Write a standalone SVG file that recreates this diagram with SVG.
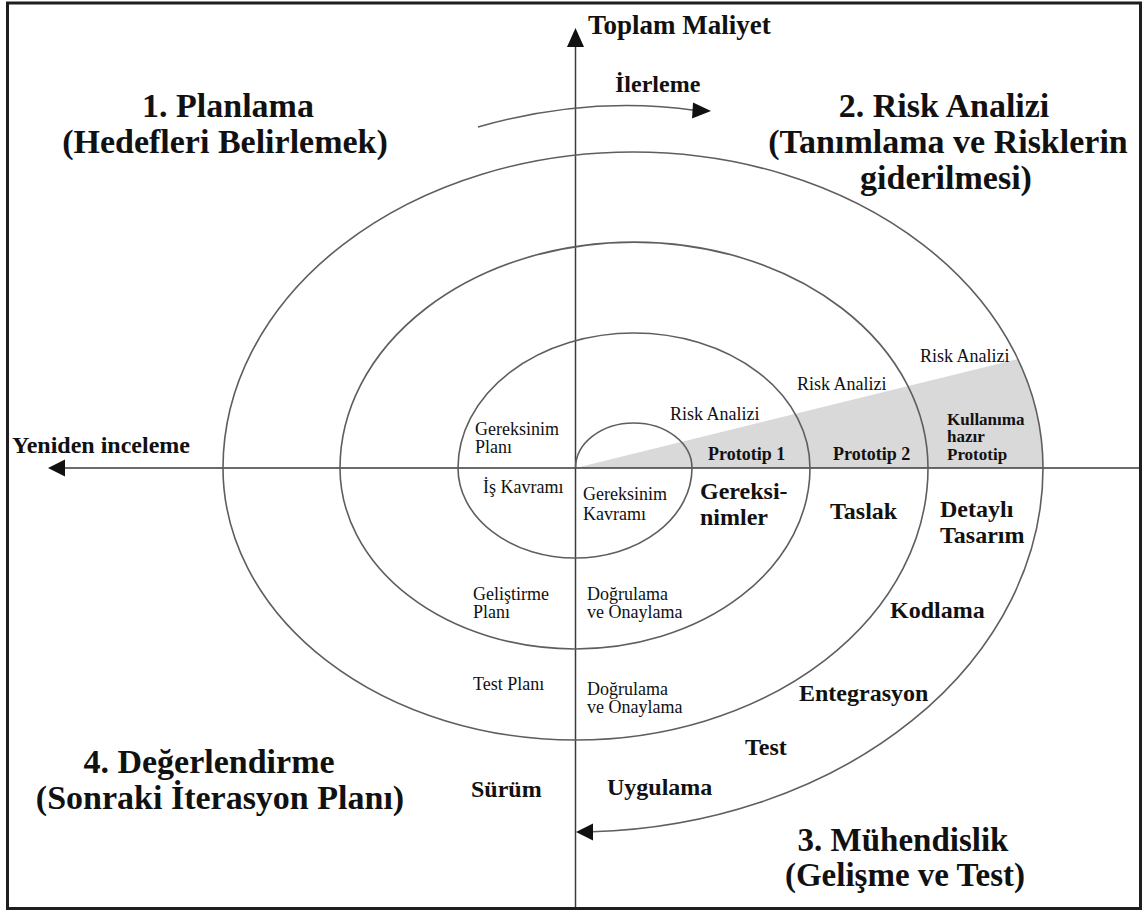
<svg xmlns="http://www.w3.org/2000/svg" width="1148" height="913" viewBox="0 0 1148 913">
  <style>
    text { font-family: "Liberation Serif", "Times New Roman", serif; fill: #111; }
    .title { font-size: 34px; font-weight: bold; text-anchor: middle; }
    .mid { font-size: 24px; font-weight: bold; }
    .small { font-size: 18px; font-weight: bold; }
    .tight { font-size: 17px; font-weight: bold; }
    .plain { font-size: 18px; }
    .axis { stroke: #3a3a3a; stroke-width: 1.5; fill: none; }
    .spiral { stroke: #5e5e5e; stroke-width: 1.6; fill: none; }
    .head { fill: #111; }
  </style>

  <rect x="0" y="0" width="1148" height="913" fill="#fff"/>
  <!-- frame -->
  <rect x="7.5" y="3" width="1133" height="905.5" fill="none" stroke="#1e1e1e" stroke-width="3"/>

  <!-- prototype wedge -->
  <path id="prototype-wedge" d="M575.5,468 L1018,359 A410,316 0 0 1 1043,468 Z" fill="#d9d9d9"/>

  <g id="connectors">
    <!-- cost axis (up) and review axis (left) -->
    <line class="axis" x1="575.5" y1="45" x2="575.5" y2="907"/>
    <polygon class="head" points="575.5,28 567,47 584,47"/>
    <line class="axis" x1="62" y1="468" x2="1139" y2="468"/>
    <polygon class="head" points="48,468 65,459.5 65,476.5"/>

    <!-- spiral of alternating half-ellipses -->
    <path class="spiral" d="M575.5,468 A58.25,45 0 0 1 692,468 A117,90 0 0 1 458,468 A176,135 0 0 1 810,468 A235,181 0 0 1 340,468 A294,226 0 0 1 928,468 A352.5,272 0 0 1 223,468 A410,316 0 0 1 1043,468 A468,364 0 0 1 592,831.8"/>
    <polygon class="head" points="576,832 593,823.5 593,840.5"/>

    <!-- progress arrow -->
    <path class="spiral" d="M478,127 Q590,95 696,110.5"/>
    <polygon class="head" points="711,111 693,102.5 692,118.5"/>
  </g>

  <g id="axis-labels">
    <text class="mid" x="588" y="34" style="font-size:27px">Toplam Maliyet</text>
    <text class="mid" x="615" y="92">İlerleme</text>
    <text class="mid" x="12" y="453">Yeniden inceleme</text>
  </g>

  <g id="quadrant-planning">
    <text class="title" x="228" y="117">1. Planlama</text>
    <text class="title" x="225" y="153">(Hedefleri Belirlemek)</text>
  </g>
  <g id="quadrant-risk">
    <text class="title" x="944" y="117">2. Risk Analizi</text>
    <text class="title" x="948" y="153">(Tanımlama ve Risklerin</text>
    <text class="title" x="946" y="189">giderilmesi)</text>
  </g>
  <g id="quadrant-evaluation">
    <text class="title" x="209" y="773">4. Değerlendirme</text>
    <text class="title" x="220" y="809">(Sonraki İterasyon Planı)</text>
  </g>
  <g id="quadrant-engineering">
    <text class="title" x="903" y="851" style="font-size:33px">3. Mühendislik</text>
    <text class="title" x="905" y="886" style="font-size:33px">(Gelişme ve Test)</text>
  </g>

  <g id="risk-analysis">
    <text class="plain" x="670" y="420">Risk Analizi</text>
    <text class="plain" x="797" y="390">Risk Analizi</text>
    <text class="plain" x="920" y="362">Risk Analizi</text>
  </g>

  <g id="prototypes">
    <text class="small" x="708" y="460">Prototip 1</text>
    <text class="small" x="833" y="460">Prototip 2</text>
    <text class="tight" x="947" y="425">Kullanıma</text>
    <text class="tight" x="947" y="442">hazır</text>
    <text class="tight" x="947" y="460">Prototip</text>
  </g>

  <g id="planning-items">
    <text class="plain" x="475" y="435">Gereksinim</text>
    <text class="plain" x="475" y="453">Planı</text>
    <text class="plain" x="483" y="493">İş Kavramı</text>
    <text class="plain" x="473" y="600">Geliştirme</text>
    <text class="plain" x="473" y="618">Planı</text>
    <text class="plain" x="473" y="690">Test Planı</text>
    <text class="mid" x="471" y="797">Sürüm</text>
  </g>

  <g id="engineering-items">
    <text class="plain" x="583" y="500">Gereksinim</text>
    <text class="plain" x="583" y="520">Kavramı</text>
    <text class="plain" x="587" y="600">Doğrulama</text>
    <text class="plain" x="587" y="618">ve Onaylama</text>
    <text class="plain" x="587" y="695">Doğrulama</text>
    <text class="plain" x="587" y="713">ve Onaylama</text>
    <text class="mid" x="700" y="499">Gereksi-</text>
    <text class="mid" x="700" y="525">nimler</text>
    <text class="mid" x="830" y="519">Taslak</text>
    <text class="mid" x="940" y="517">Detaylı</text>
    <text class="mid" x="940" y="543">Tasarım</text>
    <text class="mid" x="890" y="618">Kodlama</text>
    <text class="mid" x="799" y="701">Entegrasyon</text>
    <text class="mid" x="745" y="755">Test</text>
    <text class="mid" x="607" y="795">Uygulama</text>
  </g>
</svg>
